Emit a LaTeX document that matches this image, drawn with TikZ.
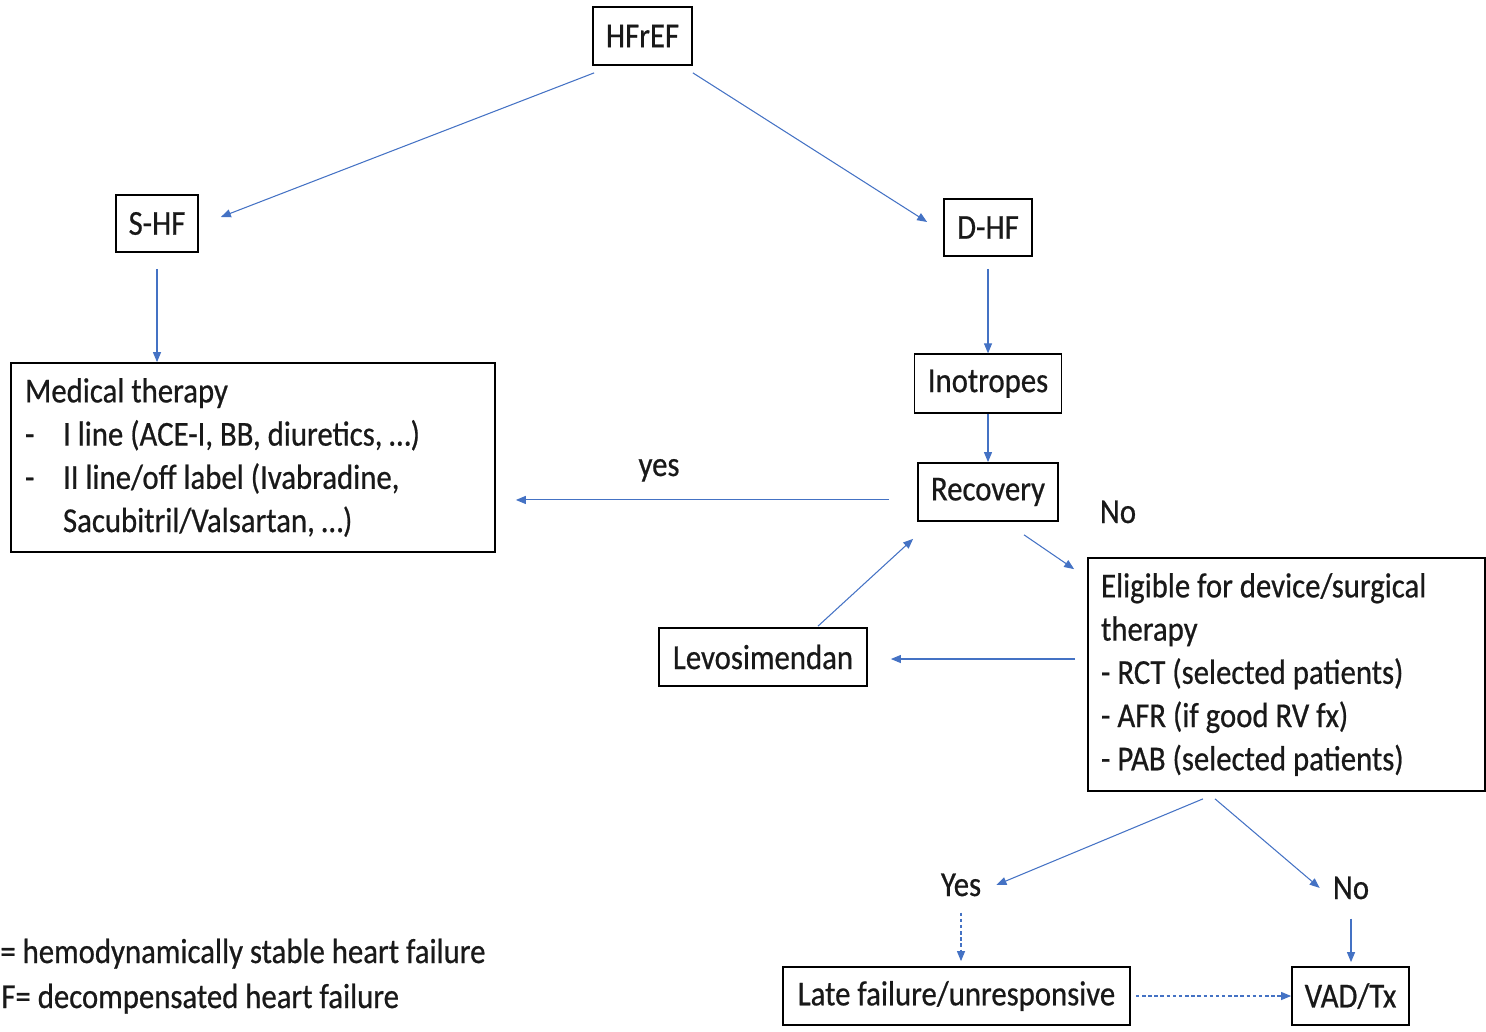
\documentclass[tikz,border=0pt]{standalone}
\usepackage{fontspec}
\setmainfont{Carlito}[FakeStretch=0.88,FakeBold=0.6]
\usepackage{xcolor}
\usepackage{tikz}
\usetikzlibrary{arrows.meta}
\usetikzlibrary{positioning}
\usetikzlibrary{calc}
\definecolor{linkblue}{RGB}{68,114,196}

\begin{document}
\begin{tikzpicture}[x=0.02cm,y=-0.02cm]
			\tikzstyle{every node}=[font=\fontsize{19.9}{24.6}\selectfont,text=black!90]
			\tikzstyle{box}=[draw=black,line width=1pt,inner sep=0pt,minimum height=1.16cm]
			\tikzstyle{txt}=[inner sep=0pt,anchor=base]
			\tikzstyle{link}=[draw=linkblue,line width=0.6pt,-{Triangle[length=0.2cm,width=0.16cm]}]
			\tikzstyle{dotlink}=[link,dash pattern=on 2pt off 1.5pt]

			\useasboundingbox (0,0) rectangle (1486,1031);

			\node (hfref) [box,minimum width=1.98cm] at (642.5,36) {HFrEF};
			\node (shf) [box,minimum width=1.64cm,minimum height=1.14cm] at (157,223.5) {S-HF};
			\node (dhf) [box,minimum width=1.76cm,minimum height=1.14cm] at (988,227.5) {D-HF};
			\node (inotropes) [box,minimum width=2.94cm,minimum height=1.18cm,below=1.93cm of dhf] {Inotropes};
			\node (recovery) [box,minimum width=2.8cm,below=0.96cm of inotropes] {Recovery};
			\node (med) [box,text width=9.12cm,minimum height=3.78cm,inner xsep=0.28cm,align=left] at (253,457.5)
			{\spaceskip=0pt Medical therapy\\
			\makebox[0.76cm][l]{-}I line (ACE-I, BB, diuretics, …)\\
			\makebox[0.76cm][l]{-}II line/off label (Ivabradine,\\
			\hspace*{0.76cm}Sacubitril/Valsartan, …)};
			\node (levo) [box,minimum width=4.16cm] at (763,657) {Levosimendan};
			\node (eligible) [box,text width=7.42cm,minimum height=4.66cm,inner xsep=0.26cm,align=left] at (1286.5,674.5)
			{\spaceskip=0pt Eligible for device/surgical\\
			therapy\\
			- RCT (selected patients)\\
			- AFR (if good RV fx)\\
			- PAB (selected patients)};
			\node (late) [box,minimum width=6.94cm] at (956.5,996) {Late failure/unresponsive};
			\node (vad) [box,minimum width=2.34cm] at (1350.5,996) {VAD/Tx};

			\node (yes) [txt] at (961,896) {Yes};
			\node (no) [txt] at (1351,899) {No};
			\node (yeslbl) [txt] at (659,476) {yes};
			\node (nolbl) [txt] at (1118,523) {No};

			% legend (left part cut off in the source)
			\node (leg1) [inner sep=0pt,anchor=base west] at (0,963) {= hemodynamically stable heart failure};
			\node (leg2) [inner sep=0pt,anchor=base west] at (1,1008) {F= decompensated heart failure};

			\coordinate (ys) at ($(recovery.west)+(-28,8)$);
			\coordinate (ye) at ($(med.east)+(20,0)$);

			\draw[link] ($(hfref.south west)+(2,7)$) -- ($(shf.east)+(22,-6.5)$);
			\draw[link] ($(hfref.south east)+(0,7)$) -- ($(dhf.west)+(-16,-5.5)$);
			\draw[link] ($(shf.south)+(0,16)$) -- (shf.south |- med.north);
			\draw[link] ($(dhf.south)+(0,12)$) -- (inotropes.north);
			\draw[link] (inotropes.south) -- (recovery.north);
			\draw[link] (ys) -- (ys -| ye);
			\draw[link] ($(recovery.south)+(36,13)$) -- ($(eligible.north west)+(-13,12)$);
			\draw[link] ($(eligible.west)+(-12,-15.5)$) -- ($(levo.east)+(23,2)$);
			\draw[link] ($(levo.north)+(55,-1)$) -- ($(recovery.south west)+(-4,17)$);
			\draw[link] ($(eligible.south)+(-83.5,7)$) -- ($(yes.east)+(15,0)$);
			\draw[link] ($(eligible.south)+(-71.5,7)$) -- ($(no.west)+(-13,0)$);
			\draw[dotlink] ($(yes.south)+(0,16)$) -- ($(yes.south |- late.north)+(0,-5)$);
			\draw[link] ($(no.south)+(0,19)$) -- ($(no.south |- vad.north)+(0,-4)$);
			\draw[dotlink] ($(late.east)+(5,0)$) -- (vad.west);

		\end{tikzpicture}
\end{document}
